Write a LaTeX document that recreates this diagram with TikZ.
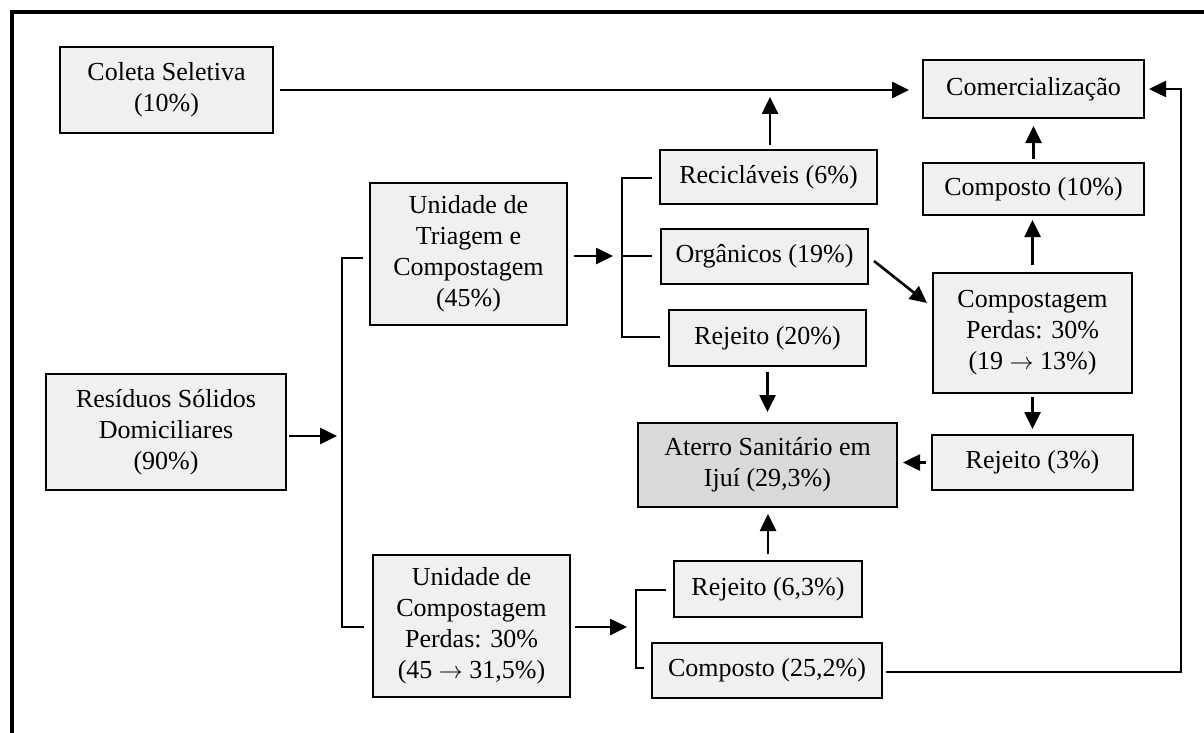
\documentclass[tikz,border=0pt]{standalone}
\usepackage{fontspec}
\setmainfont{Liberation Serif}
\usetikzlibrary{arrows.meta,calc}
\definecolor{boxfill}{RGB}{240,240,240}
\definecolor{landfill}{RGB}{217,217,217}
\newcommand\tto{\ensuremath{\rightarrow}}
\begin{document}
\begin{tikzpicture}[x=0.5pt,y=-0.5pt,
  box/.style={draw, line width=1pt, fill=boxfill, align=center, inner sep=0pt,
              font=\fontsize{13}{15.5}\selectfont},
  link/.style={line width=1pt},
  flow/.style={line width=1.3pt, -{Triangle[length=8.5pt,width=8pt]}},
]
\useasboundingbox (0,0) rectangle (1204,733);
% outer frame (top and left sides)
\draw[line width=2pt] (12,733) -- (12,12) -- (1204,12);

% boxes
\node[box, minimum width=106.5pt, minimum height=43pt] (coleta) at (166.5,90) {Coleta Seletiva\\(10\%)};
\node[box, minimum width=110.5pt, minimum height=29pt] (comerc) at (1033.5,89) {Comercialização};
\node[box, minimum width=110.5pt, minimum height=26pt] (compB) at (1033.5,189) {Composto (10\%)};
\node[box, minimum width=108.5pt, minimum height=27pt] (recic) at (768.5,177) {Recicláveis (6\%)};
\node[box, minimum width=103.5pt, minimum height=27.5pt] (organ) at (764.5,256) {Orgânicos (19\%)};
\node[box, minimum width=98.5pt, minimum height=28pt] (rej20) at (767.5,338) {Rejeito (20\%)};
\node[box, minimum width=98.5pt, minimum height=71pt] (triag) at (468.5,254) {Unidade de\\Triagem e\\Compostagem\\(45\%)};
\node[box, minimum width=120pt, minimum height=58pt] (resid) at (166,432) {Resíduos Sólidos\\Domiciliares\\(90\%)};
\node[box, minimum width=98.5pt, minimum height=71pt] (ucomp) at (471.5,626) {Unidade de\\Compostagem\\Perdas: 30\%\\(45 \tto{} 31,5\%)};
\node[box, minimum width=99.5pt, minimum height=60pt] (compost) at (1032.5,333) {Compostagem\\Perdas: 30\%\\(19 \tto{} 13\%)};
\node[box, minimum width=100.5pt, minimum height=27.5pt] (rej3) at (1032.5,462.5) {Rejeito (3\%)};
\node[box, fill=landfill, minimum width=129.5pt, minimum height=42pt] (aterro) at (767.5,465) {Aterro Sanitário em\\Ijuí (29,3\%)};
\node[box, minimum width=94pt, minimum height=28pt] (rej63) at (768,589) {Rejeito (6,3\%)};
\node[box, minimum width=115pt, minimum height=27.5pt] (comp25) at (767,670.5) {Composto (25,2\%)};

% selective collection goes straight to sales
\draw[flow, shorten <=3pt, shorten >=6.5pt] (coleta.east) -- (coleta.east -| comerc.west);
% recyclables join the sales line
\coordinate (recJoin) at (770,97);
\draw[flow] ($(recic.north)+(1.5,-4)$) -- (recJoin);
% composting column
\draw[flow, shorten <=1.5pt, shorten >=3.5pt] (compB.north) -- (comerc.south);
\draw[flow, shorten <=3.5pt, shorten >=2pt] (compost.north) -- (compost.north |- compB.south);
\draw[flow, shorten <=1.5pt, shorten >=2.5pt] (compost.south) -- (compost.south |- rej3.north);
\draw[flow, shorten <=2.5pt, shorten >=2.5pt] (rej3.west) -- (rej3.west -| aterro.east);
\draw[flow] ($(organ.east)+(5,5)$) -- ($(compost.west)+(-5,-30)$);
% rejects to the landfill
\draw[flow, shorten <=2.5pt, shorten >=5pt] (rej20.south) -- (aterro.north);
\draw[flow, shorten <=3pt, shorten >=3pt] (rej63.north) -- (rej63.north |- aterro.south);

% sorting unit branches
\coordinate (b1) at (622,256);
\draw[flow, shorten >=4.5pt] ($(triag.east)+(6,2)$) -- (b1);
\draw[link] ($(recic.west)+(-7,1)$) -| (b1) |- ($(rej20.west)+(-8,-1)$);
\draw[link] (b1) -- ($(organ.west)+(-8,0)$);

% household waste splits
\coordinate (b2) at (342,436);
\draw[flow, shorten >=2.5pt] ($(resid.east)+(2,4)$) -- (b2);
\draw[link] ($(triag.west)+(-6,4)$) -| (b2) |- ($(ucomp.west)+(-8,1)$);

% composting unit outputs
\coordinate (b3) at (636,627);
\draw[flow, shorten >=4.5pt] ($(ucomp.east)+(4,1)$) -- (b3);
\draw[link] ($(rej63.west)+(-7,1)$) -| (b3) |- ($(comp25.west)+(-7,-2.5)$);

% compost back to sales
\coordinate (ret) at (1181,672);
\draw[flow] ($(comp25.east)+(3,1.5)$) -- (ret) |- ($(comerc.east)+(4,0)$);
\end{tikzpicture}
\end{document}
